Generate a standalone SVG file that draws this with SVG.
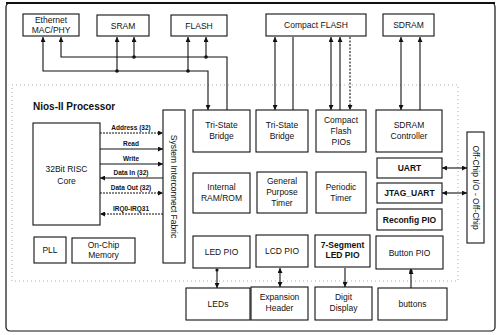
<svg xmlns="http://www.w3.org/2000/svg" width="498" height="335" viewBox="0 0 498 335">
<style>
.box{fill:#fff;stroke:#111;stroke-width:1.1}
.t{font-family:"Liberation Sans",Arial,sans-serif;font-size:8.5px;fill:#111;text-anchor:middle}
.b{font-weight:bold}
.s{font-family:"Liberation Sans",Arial,sans-serif;font-size:6.5px;font-weight:bold;fill:#111;text-anchor:middle}
.c{fill:none;stroke:#111;stroke-width:1.1}
.d{fill:#111}
</style>
<defs>
<marker id="a" viewBox="0 0 6 6" refX="6" refY="3" markerWidth="5" markerHeight="5" orient="auto-start-reverse" markerUnits="userSpaceOnUse">
<path d="M0,0 L6,3 L0,6 z" fill="#111"/>
</marker>
</defs>
<rect x="6" y="3" width="489" height="328" rx="4" fill="#fff" stroke="#111" stroke-width="1.2"/>
<line x1="6" y1="3" x2="495" y2="3" stroke="#111" stroke-width="2"/>
<rect x="12" y="85" width="446" height="196" fill="none" stroke="#999" stroke-width="0.8" stroke-dasharray="1 3"/>
<text x="33" y="110" font-family="Liberation Sans,Arial,sans-serif" font-size="10" font-weight="bold" fill="#111">Nios-II Processor</text>

<g id="connectors">
<path class="c" d="M43,37 V71 H208 V110" marker-start="url(#a)" marker-end="url(#a)"/>
<path class="c" d="M61,37 V57 H227 V110" marker-start="url(#a)"/>
<path class="c" d="M117,37 V71" marker-start="url(#a)"/>
<path class="c" d="M134,37 V57" marker-start="url(#a)"/>
<path class="c" d="M188,37 V71" marker-start="url(#a)"/>
<path class="c" d="M206,37 V57" marker-start="url(#a)"/>
<circle class="d" cx="117" cy="71" r="1.8"/>
<circle class="d" cx="134" cy="57" r="1.8"/>
<circle class="d" cx="188" cy="71" r="1.8"/>
<circle class="d" cx="206" cy="57" r="1.8"/>
<path class="c" d="M275,37 V110" marker-start="url(#a)" marker-end="url(#a)"/>
<path class="c" d="M293,37 V110"/>
<path class="c" d="M331,37 V110" marker-start="url(#a)" marker-end="url(#a)"/>
<path class="c" d="M340,37 V110" marker-start="url(#a)"/>
<path class="c" d="M350,37 V110" stroke-dasharray="2 1.5" marker-end="url(#a)"/>
<path class="c" d="M401,37 V110" marker-start="url(#a)" marker-end="url(#a)"/>
<path class="c" d="M420,37 V110" marker-start="url(#a)"/>
<path class="c" d="M100,133 H163" stroke-dasharray="2 1" marker-end="url(#a)"/>
<path class="c" d="M100,149 H163" marker-end="url(#a)"/>
<path class="c" d="M100,164 H163" marker-end="url(#a)"/>
<path class="c" d="M163,178 H100" marker-end="url(#a)"/>
<path class="c" d="M100,193 H163" stroke-dasharray="2 1" marker-end="url(#a)"/>
<path class="c" d="M163,214 H100" stroke-dasharray="2 1" marker-end="url(#a)"/>
<path class="c" d="M442,168 H467" marker-start="url(#a)" marker-end="url(#a)"/>
<path class="c" d="M442,193 H467" stroke-width="1.6" marker-start="url(#a)" marker-end="url(#a)"/>
<path class="c" d="M217,269 V288" marker-end="url(#a)"/>
<circle class="d" cx="217" cy="270" r="1.6"/>
<path class="c" d="M280,268 V287" marker-start="url(#a)" marker-end="url(#a)"/>
<path class="c" d="M345,268 V287" marker-end="url(#a)"/>
<path class="c" d="M411,288 V269" marker-end="url(#a)"/>
<circle class="d" cx="411" cy="271" r="1.6"/>
<text class="s" x="131" y="130">Address (32)</text>
<text class="s" x="131" y="146">Read</text>
<text class="s" x="131" y="161">Write</text>
<text class="s" x="131" y="175">Data In (32)</text>
<text class="s" x="131" y="190">Data Out (32)</text>
<text class="s" x="131" y="211">IRQ0-IRQ31</text>
</g>

<g id="ethernet"><rect class="box" x="23" y="14" width="56" height="22"/><text class="t" x="51" y="23">Ethernet</text><text class="t" x="51" y="33">MAC/PHY</text></g>
<g id="sram"><rect class="box" x="97" y="15" width="52" height="21"/><text class="t" x="123" y="28.5">SRAM</text></g>
<g id="flash"><rect class="box" x="171" y="15" width="56" height="21"/><text class="t" x="199" y="28.5">FLASH</text></g>
<g id="compactflash"><rect class="box" x="266" y="14" width="100" height="22"/><text class="t" x="316" y="28">Compact FLASH</text></g>
<g id="sdram"><rect class="box" x="383" y="14" width="51" height="22"/><text class="t" x="408.5" y="28">SDRAM</text></g>

<g id="core"><rect class="box" x="33" y="123" width="67" height="102"/><text class="t" x="66.5" y="172">32Bit RISC</text><text class="t" x="66.5" y="184">Core</text></g>
<g id="fabric"><rect class="box" x="163" y="110" width="22" height="153"/><text class="t" transform="translate(171,186.5) rotate(90)" font-size="9">System Interconnect Fabric</text></g>
<g id="pll"><rect class="box" x="34" y="237" width="32" height="26"/><text class="t" x="50" y="253">PLL</text></g>
<g id="onchip"><rect class="box" x="72" y="238" width="63" height="25"/><text class="t" x="103.5" y="248">On-Chip</text><text class="t" x="103.5" y="258">Memory</text></g>

<g id="tsb1"><rect class="box" x="193" y="110" width="57" height="42"/><text class="t" x="221.5" y="128">Tri-State</text><text class="t" x="221.5" y="139">Bridge</text></g>
<g id="tsb2"><rect class="box" x="256" y="110" width="52" height="42"/><text class="t" x="282" y="128">Tri-State</text><text class="t" x="282" y="139">Bridge</text></g>
<g id="cfpio"><rect class="box" x="316" y="110" width="50" height="42"/><text class="t" x="341" y="123">Compact</text><text class="t" x="341" y="134">Flash</text><text class="t" x="341" y="145">PIOs</text></g>
<g id="sdramctl"><rect class="box" x="376" y="110" width="66" height="42"/><text class="t" x="409" y="128">SDRAM</text><text class="t" x="409" y="139">Controller</text></g>

<g id="ramrom"><rect class="box" x="193" y="173" width="57" height="40"/><text class="t" x="221.5" y="190">Internal</text><text class="t" x="221.5" y="201">RAM/ROM</text></g>
<g id="gptimer"><rect class="box" x="257" y="172" width="50" height="41"/><text class="t" x="282" y="184">General</text><text class="t" x="282" y="195">Purpose</text><text class="t" x="282" y="206">Timer</text></g>
<g id="ptimer"><rect class="box" x="316" y="172" width="50" height="41"/><text class="t" x="341" y="190">Periodic</text><text class="t" x="341" y="201">Timer</text></g>
<g id="uart"><rect class="box" x="377" y="158" width="65" height="20"/><text class="t b" x="409.5" y="171" font-size="7.5">UART</text></g>
<g id="jtag"><rect class="box" x="377" y="183" width="65" height="20"/><text class="t b" x="409.5" y="196" font-size="7.5">JTAG_UART</text></g>
<g id="reconfig"><rect class="box" x="377" y="209" width="65" height="21"/><text class="t b" x="409.5" y="222.5" font-size="7">Reconfig PIO</text></g>
<g id="offchip"><rect class="box" x="467" y="132" width="17" height="111"/><text class="t" transform="translate(473,187.5) rotate(90)" font-size="8">Off-Chip I/O - Off-Chip</text></g>

<g id="ledpio"><rect class="box" x="193" y="236" width="57" height="32"/><text class="t" x="221.5" y="255">LED PIO</text></g>
<g id="lcdpio"><rect class="box" x="256" y="235" width="52" height="32"/><text class="t" x="282" y="254">LCD PIO</text></g>
<g id="sevenseg"><rect class="box" x="315" y="235" width="55" height="32"/><text class="t b" x="342.5" y="248" font-size="7">7-Segment</text><text class="t b" x="342.5" y="258" font-size="7.5">LED PIO</text></g>
<g id="buttonpio"><rect class="box" x="376" y="236" width="67" height="33"/><text class="t" x="409.5" y="255.5">Button PIO</text></g>

<g id="leds"><rect class="box" x="186" y="288" width="64" height="32"/><text class="t" x="218" y="307">LEDs</text></g>
<g id="expansion"><rect class="box" x="251" y="287" width="57" height="33"/><text class="t" x="279.5" y="300">Expansion</text><text class="t" x="279.5" y="311">Header</text></g>
<g id="digit"><rect class="box" x="315" y="287" width="57" height="33"/><text class="t" x="343.5" y="300">Digit</text><text class="t" x="343.5" y="311">Display</text></g>
<g id="buttons"><rect class="box" x="378" y="288" width="69" height="32"/><text class="t" x="412.5" y="307">buttons</text></g>
</svg>
